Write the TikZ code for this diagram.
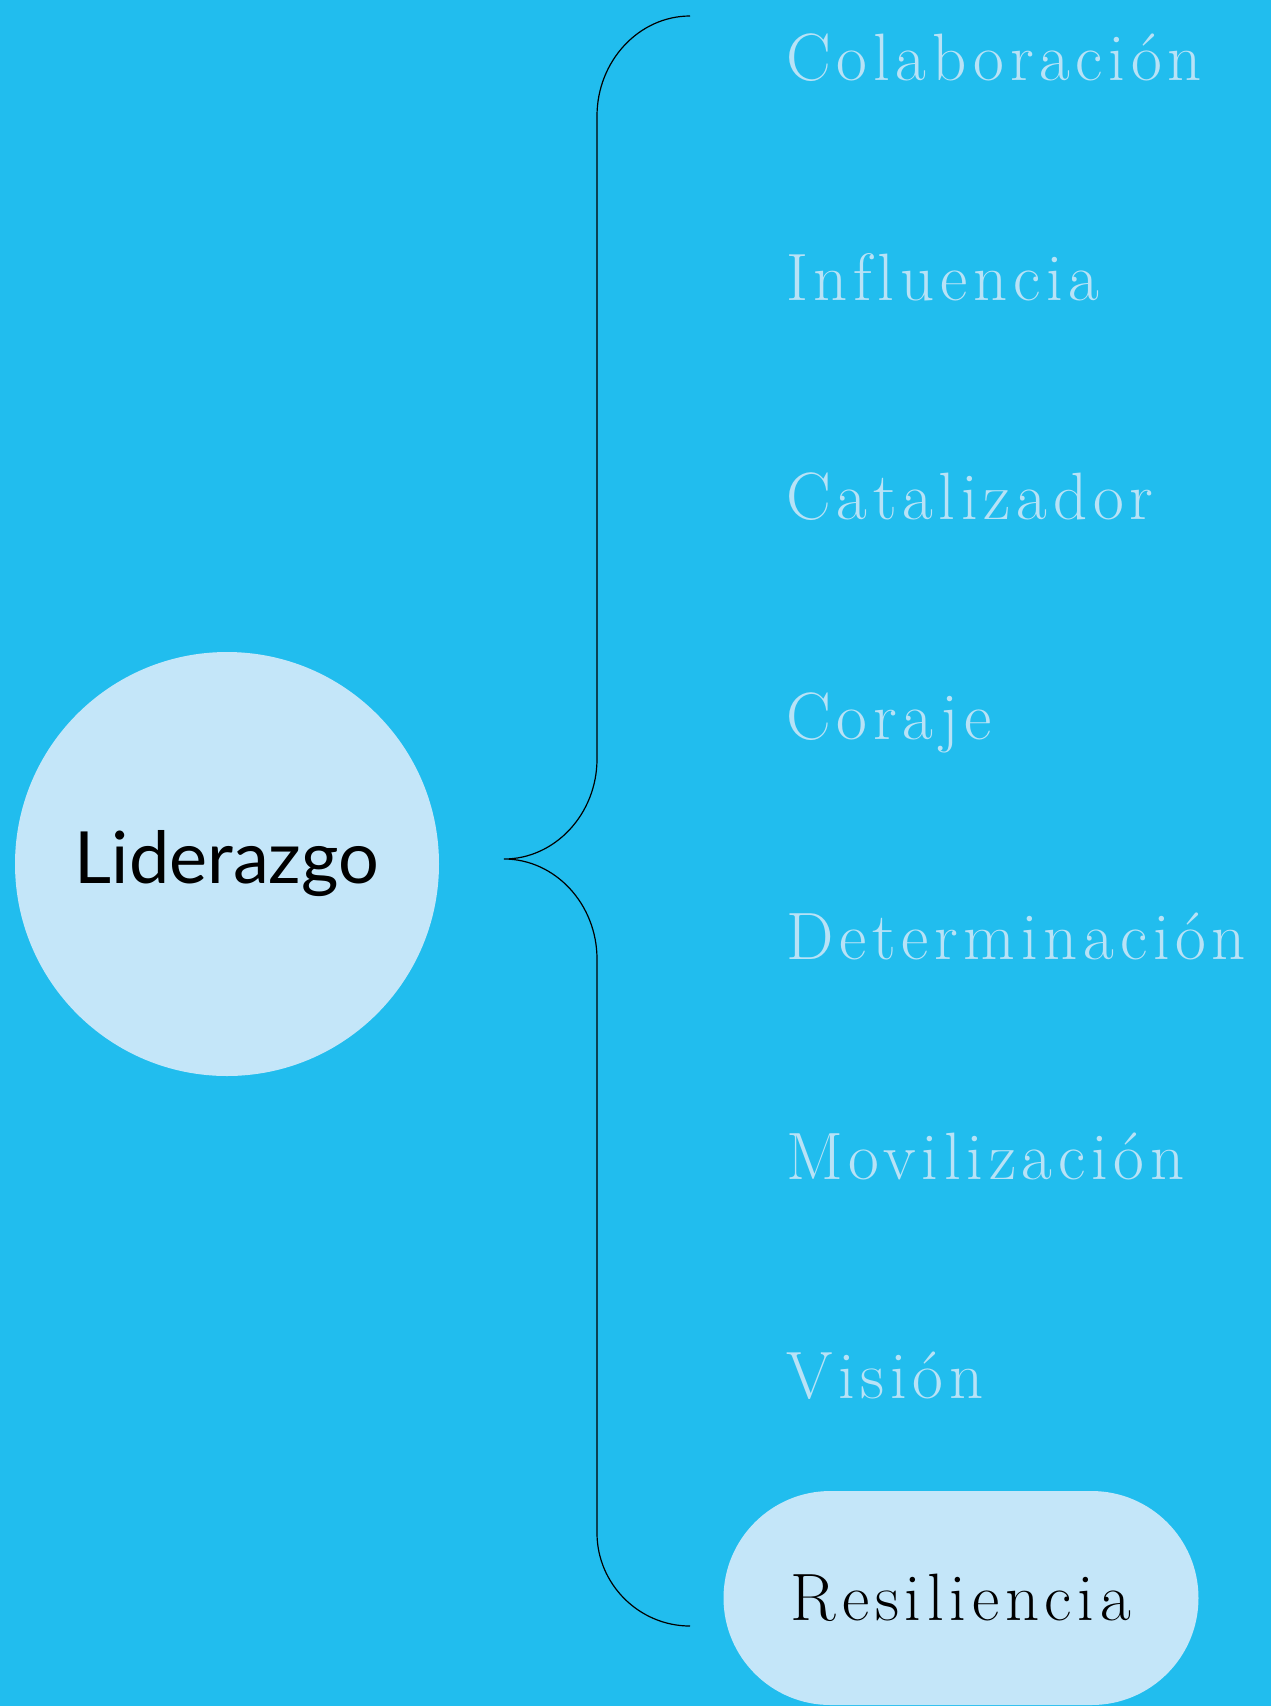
\documentclass[tikz,border=0pt]{standalone}
\usepackage{fontspec}
\newfontfamily\hubfont{Lato}
\newfontfamily\lblfont{lmroman17-regular}[Extension=.otf,LetterSpace=8.5,Ligatures=NoCommon]
\definecolor{bgblue}{HTML}{21BDEE}
\definecolor{paleblue}{HTML}{C4E6F9}
\definecolor{lblblue}{HTML}{B8E2F6}

\begin{document}
\begin{tikzpicture}[x=1pt,y=-1pt,
		hub/.style={circle,fill=paleblue,minimum size=424pt,inner sep=0pt,font=\hubfont\fontsize{72}{80}\selectfont},
		lbl/.style={anchor=base west,inner sep=0pt,text=lblblue,font=\lblfont\fontsize{67}{75}\selectfont},
		pill/.style={rounded corners=107pt,fill=paleblue,minimum width=475pt,minimum height=214pt,inner sep=0pt,font=\lblfont\fontsize{67}{75}\selectfont},
		brace/.style={line width=1.2pt}]

		\fill[bgblue] (0,0) rectangle (1271,1706);
		\useasboundingbox (0,0) rectangle (1271,1706);

		\node[hub] (lid) at (227,864) {Liderazgo};

		\node[lbl] (colab) at (786,80) {Colaboración};
		\node[lbl] (influ) at (786,300) {Influencia};
		\node[lbl] (catal) at (786,519) {Catalizador};
		\node[lbl] (coraje) at (786,739) {Coraje};
		\node[lbl] (deter) at (786,959) {Determinación};
		\node[lbl] (movil) at (786,1179) {Movilización};
		\node[lbl] (vision) at (786,1398) {Visión};
		\node[pill] (resil) at (961,1598) {Resiliencia};

		\coordinate (btop) at (690,16);
		\coordinate (tip) at (504,859);
		\coordinate (bbot) at (690,1626);

		\draw[brace] (btop) .. controls +(-51,0) and +(0,-55) .. (597,116)
			-- (597,759) .. controls +(0,55) and +(51,0) .. (tip)
			.. controls +(51,0) and +(0,-55) .. (597,959)
			-- (597,1533) .. controls +(0,51) and +(-51,0) .. (bbot);
	\end{tikzpicture}
\end{document}
